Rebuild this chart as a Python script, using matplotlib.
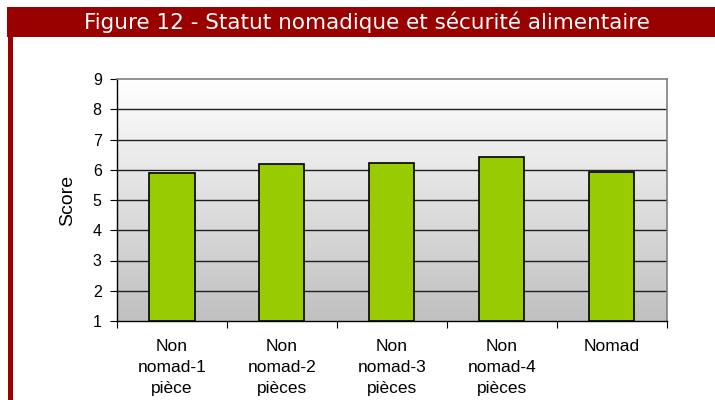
import matplotlib
matplotlib.use("Agg")
import matplotlib.pyplot as plt
import numpy as np
from matplotlib.colors import LinearSegmentedColormap
from matplotlib.patches import Rectangle

categories = ["Non\nnomad-1\npièce", "Non\nnomad-2\npièces", "Non\nnomad-3\npièces",
              "Non\nnomad-4\npièces", "Nomad"]
scores = [5.9, 6.18, 6.22, 6.43, 5.94]
yticks = [1, 2, 3, 4, 5, 6, 7, 8, 9]
title = "Figure 12 - Statut nomadique et sécurité alimentaire"

W, H = 715, 400
fig = plt.figure(figsize=(W / 100, H / 100), dpi=100)
fig.patch.set_facecolor("white")

red = "#990000"
# title bar
fig.patches.append(Rectangle((7 / W, 1 - 37 / H), 1 - 7 / W, 30 / H,
                             transform=fig.transFigure, facecolor=red, edgecolor="none"))
# left border strip
fig.patches.append(Rectangle((8 / W, 0), 5 / W, 1 - 37 / H,
                             transform=fig.transFigure, facecolor=red, edgecolor="none"))
fig.text(367 / W, 1 - 22 / H, title, color="white", fontsize=15.5,
         family="DejaVu Sans", ha="center", va="center")

ax = fig.add_axes([117 / W, 1 - 321 / H, (666.7 - 117) / W, (321 - 79) / H])
n = len(categories)
x = np.arange(n)
ax.set_xlim(-0.5, n - 0.5)
ax.set_ylim(yticks[0], yticks[-1])

cmap = LinearSegmentedColormap.from_list("bg", ["#c0c0c0", "#ffffff"])
grad = np.linspace(0, 1, 256).reshape(-1, 1)
ax.imshow(grad, extent=[-0.5, n - 0.5, yticks[0], yticks[-1]], origin="lower",
          aspect="auto", cmap=cmap, zorder=0)

for yv in yticks[1:-1]:
    ax.axhline(yv, color="#202020", lw=1, zorder=1)

ax.bar(x, [s - yticks[0] for s in scores], bottom=yticks[0], width=0.41,
       color="#99cc00", edgecolor="black", lw=1.2, zorder=2)

ax.set_yticks(yticks)
ax.set_yticklabels([str(v) for v in yticks], fontsize=11.5, family="Liberation Sans")
ax.set_xticks(np.arange(-0.5, n, 1.0))
ax.set_xticklabels([])
ax.set_xticks(x, minor=True)
ax.set_xticklabels(categories, minor=True, fontsize=12.5, family="Liberation Sans",
                   linespacing=1.5, va="top")
ax.tick_params(axis="x", which="minor", length=0, pad=13)
ax.tick_params(axis="x", which="major", length=5, direction="out", color="black")
ax.tick_params(axis="y", length=5, direction="out", color="black", pad=6)

for s in ["top", "right"]:
    ax.spines[s].set_color("#808080")
    ax.spines[s].set_linewidth(1.2)
for s in ["left", "bottom"]:
    ax.spines[s].set_color("black")
    ax.spines[s].set_linewidth(1)

ax.set_ylabel("Score", fontsize=14, family="Liberation Sans", labelpad=12)

fig.savefig("out.png", dpi=100)
